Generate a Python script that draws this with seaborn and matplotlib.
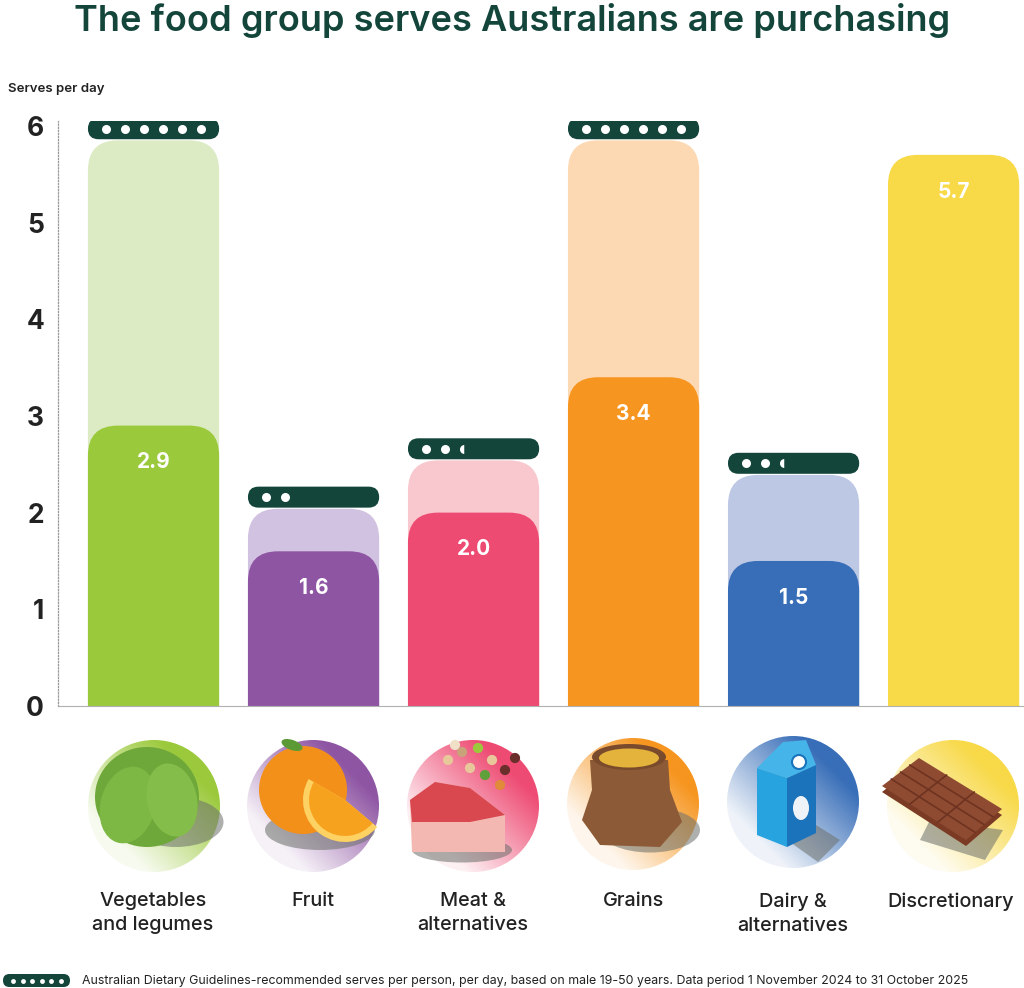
import numpy as np
import pandas as pd
import seaborn as sns
import matplotlib.pyplot as plt
from matplotlib.patches import FancyBboxPatch, Circle, Ellipse, Polygon, Wedge
from matplotlib.colors import LinearSegmentedColormap, to_rgb

# data
categories = ["Vegetables\nand legumes", "Fruit", "Meat &\nalternatives",
              "Grains", "Dairy &\nalternatives", "Discretionary"]
purchased = [2.9, 1.6, 2.0, 3.4, 1.5, 5.7]
recommended_level = [5.97, 2.16, 2.66, 5.97, 2.51, np.nan]   # where the dots pill sits
recommended_dots = [6, 2, 2.5, 6, 2.5, 0]                     # number of dots in pill
y_ticks = [0, 1, 2, 3, 4, 5, 6]

dark_colors = ["#9BC93C", "#8E55A3", "#EE4B73", "#F6951F", "#386EB8", "#F8D948"]
light_colors = ["#DDEBC4", "#D2C2E1", "#F9C8CE", "#FDD9B3", "#BDC8E5", "#FFFFFF"]
pill_color = "#13453B"
text_color = "#222222"

W, H = 1024, 988
sns.set_theme(style="white")
plt.rcParams['font.family'] = ['Inter', 'DejaVu Sans']

fig = plt.figure(figsize=(W / 100, H / 100), dpi=100)

# main chart axes, placed in pixel coordinates
x_left, x_right = 58, 1024
y_zero, y_top = 706, 121
ax = fig.add_axes([x_left / W, (H - y_zero) / H, (x_right - x_left) / W, (y_zero - y_top) / H])

df = pd.DataFrame({
    "cat": categories,
    "purchased": purchased,
    "light": [v - 0.12 for v in recommended_level],
})

sns.barplot(data=df, x="cat", y="light", hue="cat", palette=light_colors,
            width=0.82, legend=False, ax=ax, saturation=1)
sns.barplot(data=df, x="cat", y="purchased", hue="cat", palette=dark_colors,
            width=0.82, legend=False, ax=ax, saturation=1)

ax.set_xlim(-0.597, 5.44)
ax.set_ylim(0, 6.05)

# pixels per data unit
px_x = 160.0
px_y = (y_zero - y_top) / 6.05
aspect = px_x / px_y

# replace plain rectangles with rounded-top bars
for p in list(ax.patches):
    x, w, h = p.get_x(), p.get_width(), p.get_height()
    fc = p.get_facecolor()
    z = p.get_zorder()
    p.remove()
    if not np.isfinite(h) or h <= 0:
        continue
    ax.add_patch(FancyBboxPatch((x, -0.6), w, h + 0.6,
                                boxstyle=f"round,pad=0,rounding_size={30 / px_x}",
                                mutation_aspect=aspect, fc=fc, ec="none", zorder=z))

# value labels
for i, v in enumerate(purchased):
    ax.text(i, v - 0.38, f"{v:.1f}", ha="center", va="center", color="white",
            fontsize=15, fontweight="bold", zorder=5)

# recommended serves pills with dots
pill_h = 21 / px_y
for i, (lvl, nd) in enumerate(zip(recommended_level, recommended_dots)):
    if not np.isfinite(lvl):
        continue
    x0 = i - 0.41
    ax.add_patch(FancyBboxPatch((x0, lvl - pill_h / 2), 0.82, pill_h,
                                boxstyle=f"round,pad=0,rounding_size={10.5 / px_x}",
                                mutation_aspect=aspect, fc=pill_color, ec="none", zorder=6))
    full = int(nd)
    xs = [x0 + (18 + 19 * k) / px_x for k in range(full)]
    ax.plot(xs, [lvl] * full, "o", color="white", ms=6.5, mec="none", zorder=7)
    if nd - full > 0:
        ax.plot([x0 + (18 + 19 * full) / px_x], [lvl], "o", ms=6.5, fillstyle="left",
                color="white", markerfacecoloralt=pill_color, mec="none", zorder=7)

# axes styling
ax.set_xticks([])
ax.set_xlabel("")
ax.set_ylabel("")
ax.set_yticks(y_ticks)
ax.set_yticklabels([str(t) for t in y_ticks], fontsize=19, fontweight="bold", color=text_color)
ax.tick_params(axis="y", length=0, pad=10)
for s in ["top", "right"]:
    ax.spines[s].set_visible(False)
ax.spines["left"].set_linestyle((0, (1, 1.5)))
ax.spines["left"].set_color("#9a9a9a")
ax.spines["left"].set_linewidth(0.9)
ax.spines["bottom"].set_color("#b0b0b0")
ax.spines["bottom"].set_linewidth(0.8)
ax.spines["bottom"].set_zorder(8)

# overlay axes in pixel coordinates for title, icons, labels and footer
ov = fig.add_axes([0, 0, 1, 1], zorder=-1)
ov.axis("off")

fig.text(0.5, 1 - 20 / H, "The food group serves Australians are purchasing",
         ha="center", va="center", fontsize=26, fontweight="semibold", color=pill_color)
fig.text(8 / W, 1 - 89 / H, "Serves per day", ha="left", va="center",
         fontsize=9.5, fontweight="semibold", color=text_color)

# icon circles with diagonal gradient
R = 66
centers = [(154, 806), (313, 806), (473, 806), (633, 804), (793, 802), (953, 806)]
gx, gy = np.meshgrid(np.linspace(-1, 1, 200), np.linspace(-1, 1, 200))
grad = np.clip((gx - gy) / 2.2 + 0.5, 0, 1)
for (cx, cy), col in zip(centers, dark_colors):
    base = np.array(to_rgb(col))
    start = 1 - (1 - base) * 0.08
    cmap = LinearSegmentedColormap.from_list("g", [start, col])
    im = ov.imshow(grad, cmap=cmap, vmin=0, vmax=1, extent=(cx - R, cx + R, cy + R, cy - R),
                   origin="upper", interpolation="bilinear")
    im.set_clip_path(Circle((cx, cy), R, transform=ov.transData))

# simple food illustrations
shadow = dict(fc="#6b6f6a", alpha=0.55, ec="none")
# cabbage
ov.add_patch(Ellipse((176, 822), 95, 50, **shadow))
ov.add_patch(Ellipse((147, 797), 104, 100, fc="#6FA83A", ec="none"))
ov.add_patch(Ellipse((128, 805), 55, 78, angle=15, fc="#7DB744", ec="none"))
ov.add_patch(Ellipse((172, 800), 50, 74, angle=-12, fc="#84BD49", ec="none"))
# orange
ov.add_patch(Ellipse((320, 830), 110, 40, **shadow))
ov.add_patch(Circle((303, 790), 44, fc="#F39019", ec="none"))
ov.add_patch(Ellipse((292, 745), 22, 10, angle=20, fc="#5C9A35", ec="none"))
ov.add_patch(Wedge((345, 800), 42, 40, 210, fc="#FDD262", ec="none"))
ov.add_patch(Wedge((345, 800), 36, 40, 210, fc="#F7A21E", ec="none"))
# meat and legumes
ov.add_patch(Ellipse((462, 850), 100, 25, **shadow))
ov.add_patch(Polygon([(410, 800), (435, 782), (470, 788), (505, 815), (505, 852), (412, 852)],
                     fc="#F3B8B2", ec="none"))
ov.add_patch(Polygon([(410, 800), (435, 782), (470, 788), (505, 815), (470, 822), (412, 822)],
                     fc="#D9474F", ec="none"))
bx = [448, 462, 478, 492, 505, 470, 485, 500, 455, 515]
by = [760, 752, 748, 760, 770, 768, 775, 785, 745, 758]
ov.scatter(bx, by, s=40, c=["#E8C89B", "#C9A27A", "#9BC93C", "#E8C89B", "#6A2F2A",
                            "#E8C89B", "#5FA03A", "#E08A3A", "#F0E0C8", "#6A2F2A"], zorder=3)
# grain sack
ov.add_patch(Ellipse((650, 830), 100, 45, **shadow))
ov.add_patch(Polygon([(582, 820), (592, 790), (590, 760), (668, 760), (670, 790), (682, 822),
                      (660, 847), (600, 845)], fc="#8C5A36", ec="none"))
ov.add_patch(Ellipse((629, 757), 74, 26, fc="#7A4A2C", ec="none"))
ov.add_patch(Ellipse((629, 758), 60, 19, fc="#E3B33B", ec="none"))
# milk carton
ov.add_patch(Polygon([(800, 815), (840, 840), (818, 862), (780, 835)], **shadow))
ov.add_patch(Polygon([(757, 768), (787, 778), (787, 847), (757, 835)], fc="#27A3E0", ec="none"))
ov.add_patch(Polygon([(787, 778), (816, 765), (816, 833), (787, 847)], fc="#1A73BB", ec="none"))
ov.add_patch(Polygon([(757, 768), (783, 742), (806, 740), (816, 765), (787, 778)],
                     fc="#45B4E8", ec="none"))
ov.add_patch(Circle((799, 762), 7, fc="white", ec="#1A73BB", lw=1.5))
ov.add_patch(Ellipse((801, 808), 16, 24, fc="#EEF3F8", ec="none"))
# chocolate bar
ov.add_patch(Polygon([(930, 820), (1003, 830), (985, 860), (920, 840)], **shadow))
ov.add_patch(Polygon([(882, 792), (919, 764), (1002, 815), (966, 846)], fc="#7B3A24", ec="none"))
ov.add_patch(Polygon([(882, 786), (919, 758), (1002, 809), (966, 840)], fc="#8E4B32", ec="none"))
for t in (1 / 3, 2 / 3):
    ov.plot([919 + (1002 - 919) * t, 882 + (966 - 882) * t],
            [758 + (809 - 758) * t, 786 + (840 - 786) * t], color="#6E3320", lw=1.2)
for t in (0.25, 0.5, 0.75):
    ov.plot([882 + (919 - 882) * t, 966 + (1002 - 966) * t],
            [786 + (758 - 786) * t, 840 + (809 - 840) * t], color="#6E3320", lw=1.2)

ov.set_xlim(0, W)
ov.set_ylim(H, 0)

# category labels under icons
label_x = [153, 313, 473, 633, 793, 951]
for x, c in zip(label_x, categories):
    ov.text(x, 892, c, ha="center", va="top", fontsize=14.3, color=text_color,
            linespacing=1.45, fontweight="medium")

# footer legend
ov.add_patch(FancyBboxPatch((3, 974), 67, 13, boxstyle="round,pad=0,rounding_size=6.5",
                            fc=pill_color, ec="none"))
ov.plot([13 + 9.5 * k for k in range(6)], [980.5] * 6, "o", color="white", ms=3.5, mec="none")
ov.text(82, 981, "Australian Dietary Guidelines-recommended serves per person, per day, "
        "based on male 19-50 years. Data period 1 November 2024 to 31 October 2025",
        ha="left", va="center", fontsize=8.9, color=text_color)

fig.savefig("out.png", dpi=100)
